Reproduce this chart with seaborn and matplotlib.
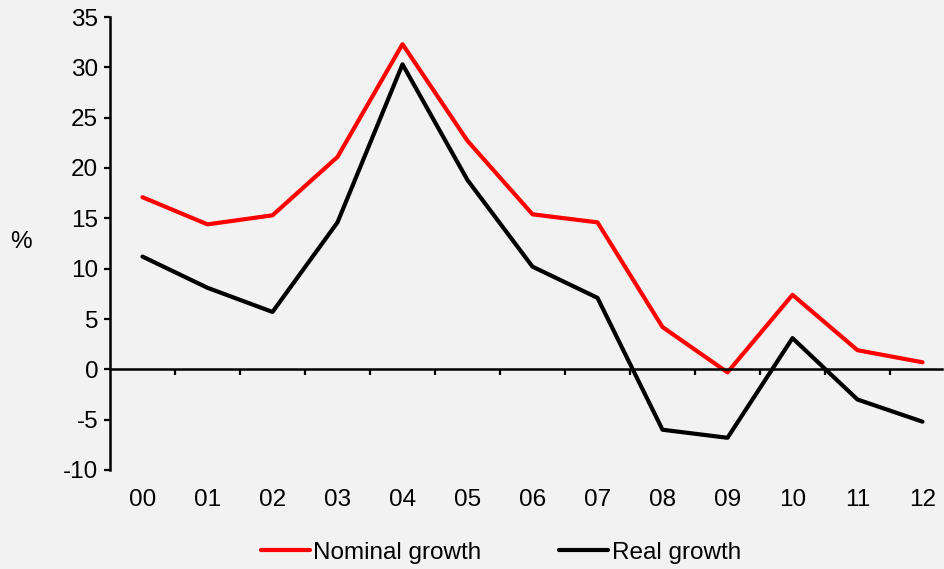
import numpy as np
import pandas as pd
import seaborn as sns
import matplotlib.pyplot as plt

# ---- Data ----
years = ["00", "01", "02", "03", "04", "05", "06", "07", "08", "09", "10", "11", "12"]
nominal = [17.1, 14.4, 15.3, 21.1, 32.3, 22.7, 15.4, 14.6, 4.2, -0.3, 7.4, 1.9, 0.7]
real = [11.2, 8.1, 5.7, 14.6, 30.3, 18.8, 10.2, 7.1, -6.0, -6.8, 3.1, -3.0, -5.2]

df = pd.DataFrame({
    "x": list(range(len(years))) * 2,
    "value": nominal + real,
    "series": ["Nominal growth"] * len(years) + ["Real growth"] * len(years),
})

sns.set_style("white")
plt.rcParams["font.family"] = ["Liberation Sans", "DejaVu Sans"]
plt.rcParams["axes.unicode_minus"] = False
plt.rcParams["text.color"] = "black"
plt.rcParams["xtick.color"] = "black"
plt.rcParams["ytick.color"] = "black"
plt.rcParams["axes.labelcolor"] = "black"
bg = "#F2F2F2"
fs = 17.5

fig = plt.figure(figsize=(9.44, 5.69), dpi=100, facecolor=bg)
ax = fig.add_axes([110 / 944, 1 - 470 / 569, 832 / 944, 453 / 569])
ax.set_facecolor(bg)

sns.lineplot(data=df, x="x", y="value", hue="series",
             palette={"Nominal growth": "#FF0000", "Real growth": "#000000"},
             linewidth=3, ax=ax)

ax.set_xlim(-0.5, 12.3)
ax.set_ylim(-10, 35)
ax.set_yticks(np.arange(-10, 36, 5))
ax.set_xticks(range(len(years)))
ax.set_xticklabels(years)

# zero line with category-boundary ticks, using the top spine
for s in ["right", "bottom"]:
    ax.spines[s].set_visible(False)
ax.spines["top"].set_position(("data", 0))
ax.spines["top"].set_linewidth(1.8)
ax.spines["left"].set_linewidth(1.8)
ax.spines["top"].set_color("black")
ax.spines["left"].set_color("black")
ax.set_xticks(np.arange(0.5, 12, 1), minor=True)
ax.tick_params(axis="x", which="major", length=0, top=False, bottom=True,
               labelsize=fs, pad=14)
ax.tick_params(axis="x", which="minor", top=True, bottom=False,
               direction="in", length=4, width=1.6)
ax.tick_params(axis="y", which="major", left=True, direction="out",
               length=4.5, width=1.6, labelsize=fs, pad=4)

ax.set_xlabel("")
ax.set_ylabel("%", rotation=0, fontsize=fs, labelpad=0)
ax.yaxis.set_label_coords(-0.107, 0.48)

ax.legend(loc="upper center", bbox_to_anchor=(0.47, -0.11), ncol=2,
          frameon=False, fontsize=fs, handlelength=2.0, handletextpad=0.15,
          columnspacing=3.2)

fig.savefig("out.png", dpi=100, facecolor=bg)
